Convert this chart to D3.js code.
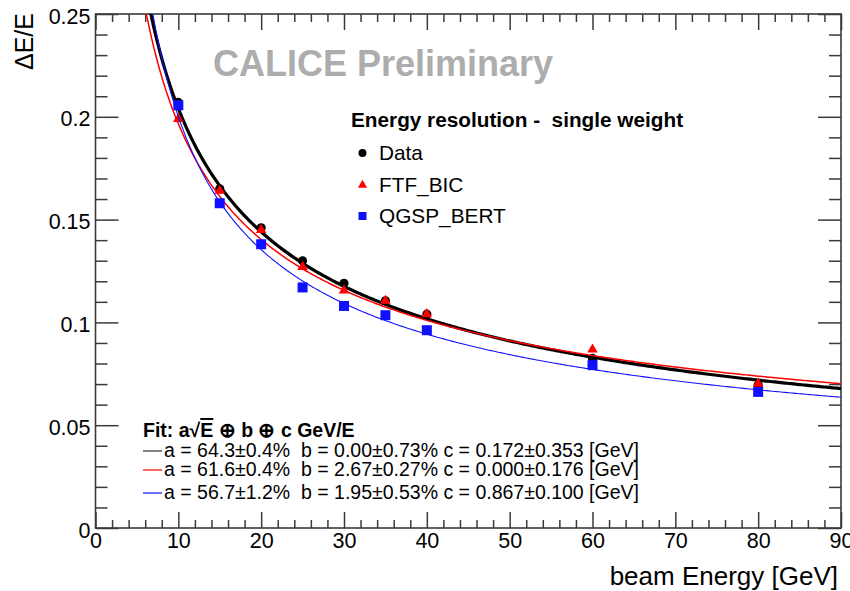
<!DOCTYPE html>
<html>
<head>
<meta charset="utf-8">
<script src="https://cdn.jsdelivr.net/npm/d3@7"></script>
<style>
  body { margin: 0; background: #fff; }
  svg { display: block; }
  text { font-family: "Liberation Sans", Arial, Helvetica, sans-serif; }
</style>
</head>
<body>
<svg id="chart" width="850" height="591"></svg>
<script>
// Beam energies [GeV] and measured / simulated relative resolutions
const energies = [10, 15, 20, 25, 30, 35, 40, 60, 80];
const dataRes  = [0.207, 0.165, 0.146, 0.130, 0.119, 0.1105, 0.104, 0.0825, 0.0695];
const ftfRes   = [0.199, 0.164, 0.145, 0.127, 0.1155, 0.1105, 0.104, 0.0868, 0.0702];
const qgspRes  = [0.2056, 0.158, 0.138, 0.117, 0.108, 0.1035, 0.0962, 0.0792, 0.0662];

// Fit parameters: sigma/E = a/sqrt(E) (+) b (+) c/E
const seriesNames = ["Data", "FTF_BIC", "QGSP_BERT"];
const fitA = [0.643, 0.616, 0.567];
const fitB = [0.0000, 0.0267, 0.0195];
const fitC = [0.172, 0.000, 0.867];
const fitLabels = [
  "a = 64.3\u00b10.4%  b = 0.00\u00b10.73% c = 0.172\u00b10.353 [GeV]",
  "a = 61.6\u00b10.4%  b = 2.67\u00b10.27% c = 0.000\u00b10.176 [GeV]",
  "a = 56.7\u00b11.2%  b = 1.95\u00b10.53% c = 0.867\u00b10.100 [GeV]"
];

// Axis ticks
const xMajor = [0, 10, 20, 30, 40, 50, 60, 70, 80, 90];
const yMajor = [0, 0.05, 0.1, 0.15, 0.2, 0.25];
const yLabels = ["0", "0.05", "0.1", "0.15", "0.2", "0.25"];

const svg = d3.select("#chart");
const W = 850, H = 591;
const L = 95.5, R = 841, T = 14, B = 528;

const x = d3.scaleLinear().domain([0, 90]).range([L, R]);
const y = d3.scaleLinear().domain([0, 0.25]).range([B, T]);

svg.append("rect").attr("width", W).attr("height", H).attr("fill", "#fff");

svg.append("defs").append("clipPath").attr("id", "plot")
  .append("rect").attr("x", L).attr("y", T).attr("width", R - L).attr("height", B - T);

const tickColor = "#3a3a3a";
const xMinor = d3.range(0, 90.001, 2).filter(v => v % 10 !== 0);
const yMinor = d3.range(0, 0.2501, 0.01).map(v => +v.toFixed(2)).filter(v => !yMajor.some(m => Math.abs(m - v) < 1e-6));

function styleAxis(g) {
  g.select(".domain").remove();
  g.selectAll("line").attr("stroke", tickColor).attr("stroke-width", 1.5);
}

// bottom axis: major with labels, minor without
svg.append("g").attr("transform", `translate(0,${B})`)
  .call(d3.axisBottom(x).tickValues(xMajor).tickSize(-16).tickPadding(5).tickFormat(d3.format("d")))
  .call(styleAxis)
  .call(g => g.selectAll("text").attr("font-size", 21.5).attr("fill", "#000")
                 .attr("font-family", "Liberation Sans, Arial, sans-serif"));
svg.append("g").attr("transform", `translate(0,${B})`)
  .call(d3.axisBottom(x).tickValues(xMinor).tickSize(-8).tickFormat(""))
  .call(styleAxis);

// top axis ticks
svg.append("g").attr("transform", `translate(0,${T})`)
  .call(d3.axisTop(x).tickValues(xMajor).tickSize(-16).tickFormat(""))
  .call(styleAxis);
svg.append("g").attr("transform", `translate(0,${T})`)
  .call(d3.axisTop(x).tickValues(xMinor).tickSize(-8).tickFormat(""))
  .call(styleAxis);

// left axis
svg.append("g").attr("transform", `translate(${L},0)`)
  .call(d3.axisLeft(y).tickValues(yMajor).tickSize(-23).tickPadding(5)
        .tickFormat((d, i) => yLabels[i]))
  .call(styleAxis)
  .call(g => g.selectAll("text").attr("font-size", 21.5).attr("fill", "#000")
                 .attr("dy", "0.42em")
                 .attr("font-family", "Liberation Sans, Arial, sans-serif"));
svg.append("g").attr("transform", `translate(${L},0)`)
  .call(d3.axisLeft(y).tickValues(yMinor).tickSize(-12).tickFormat(""))
  .call(styleAxis);

// right axis ticks
svg.append("g").attr("transform", `translate(${R},0)`)
  .call(d3.axisRight(y).tickValues(yMajor).tickSize(-23).tickFormat(""))
  .call(styleAxis);
svg.append("g").attr("transform", `translate(${R},0)`)
  .call(d3.axisRight(y).tickValues(yMinor).tickSize(-12).tickFormat(""))
  .call(styleAxis);

// frame
svg.append("rect").attr("x", L).attr("y", T).attr("width", R - L).attr("height", B - T)
  .attr("fill", "none").attr("stroke", tickColor).attr("stroke-width", 1.6);

// watermark
svg.append("text").attr("x", 213).attr("y", 76)
  .attr("font-size", 36).attr("font-weight", "bold").attr("fill", "#adadad")
  .text("CALICE Preliminary");

// fit curves and markers
const colors = ["#000000", "#ff0000", "#1010ff"];
const curveWidths = [3.2, 1.5, 1.1];
const seriesValues = [dataRes, ftfRes, qgspRes];
const symbolTypes = [d3.symbolCircle, d3.symbolTriangle, d3.symbolSquare];
const symbolSizes = [66, 48, 100];

const fitE = d3.range(4, 90.001, 0.25);
const line = d3.line().x(d => x(d[0])).y(d => y(d[1])).curve(d3.curveLinear);
const plotArea = svg.append("g").attr("clip-path", "url(#plot)");

seriesNames.forEach((name, k) => {
  const fitPts = fitE.map(e => [e, Math.sqrt((fitA[k] * fitA[k]) / e + fitB[k] * fitB[k] + (fitC[k] / e) * (fitC[k] / e))]);
  plotArea.append("path").datum(fitPts)
    .attr("d", line).attr("fill", "none")
    .attr("stroke", colors[k]).attr("stroke-width", curveWidths[k]);
  plotArea.append("g").selectAll("path")
    .data(energies.map((e, i) => [e, seriesValues[k][i]]))
    .join("path")
    .attr("transform", d => `translate(${x(d[0])},${y(d[1])})`)
    .attr("d", d3.symbol(symbolTypes[k], symbolSizes[k]))
    .attr("fill", colors[k]);
});

// legend
const legend = svg.append("g");
legend.append("text").attr("x", 351).attr("y", 127)
  .attr("font-size", 20.75).attr("font-weight", "bold").attr("fill", "#000")
  .style("white-space", "pre")
  .text("Energy resolution -  single weight");
const legendY = [153, 185, 216];
const legendSizes = [50, 36, 64];
seriesNames.forEach((name, k) => {
  legend.append("path")
    .attr("transform", `translate(362.5,${legendY[k]})`)
    .attr("d", d3.symbol(symbolTypes[k], legendSizes[k]))
    .attr("fill", colors[k]);
  legend.append("text").attr("x", 379).attr("y", legendY[k] + 7)
    .attr("font-size", 20.8).attr("fill", "#000").text(name);
});

// fit summary
const fitBox = svg.append("g");
const fitTitle = fitBox.append("text").attr("x", 143).attr("y", 437)
  .attr("font-size", 19.5).attr("font-weight", "bold").attr("fill", "#000");
fitTitle.append("tspan").text("Fit: a\u221a");
fitTitle.append("tspan").attr("text-decoration", "overline").text("E");
fitTitle.append("tspan").text(" \u2295 b \u2295 c GeV/E");

const fitLineY = [457, 476, 499];
fitLabels.forEach((lab, k) => {
  fitBox.append("line").attr("x1", 143).attr("x2", 162)
    .attr("y1", fitLineY[k] - 6).attr("y2", fitLineY[k] - 6)
    .attr("stroke", k === 0 ? "#333" : colors[k]).attr("stroke-width", 1.2);
  fitBox.append("text").attr("x", 164).attr("y", fitLineY[k])
    .attr("font-size", 19.5).attr("fill", "#000")
    .style("white-space", "pre").text(lab);
});

// axis titles
svg.append("text").attr("x", 838).attr("y", 585).attr("text-anchor", "end")
  .attr("font-size", 26).attr("fill", "#000").text("beam Energy [GeV]");
svg.append("text").attr("transform", "translate(33,13) rotate(-90)")
  .attr("text-anchor", "end").attr("font-size", 25).attr("fill", "#000")
  .text("\u0394E/E");
</script>
</body>
</html>
